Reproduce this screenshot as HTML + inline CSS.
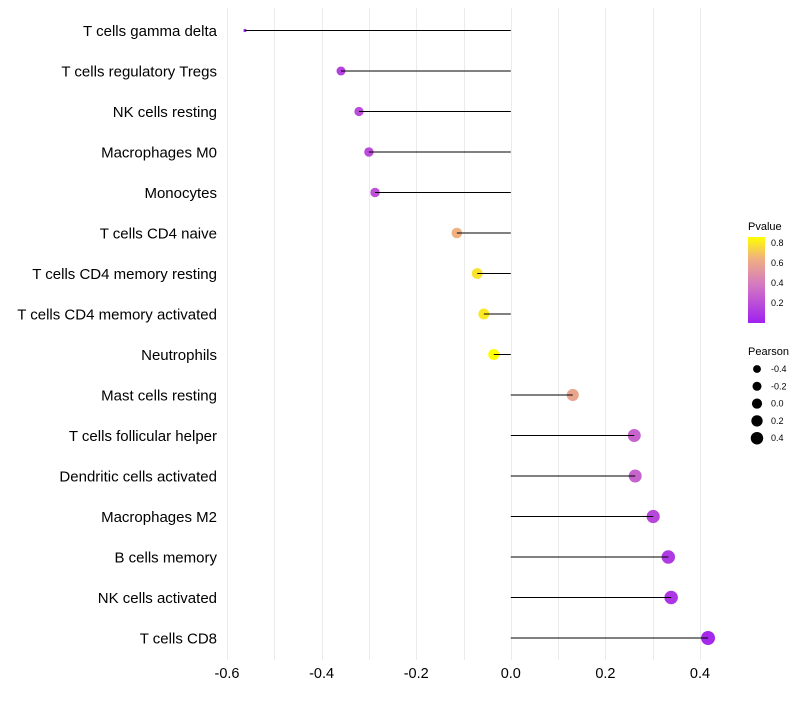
<!DOCTYPE html>
<html><head><meta charset="utf-8"><style>
body{margin:0;background:#fff;font-family:"Liberation Sans",sans-serif}
</style></head><body>
<svg id="chart" width="800" height="700">
<defs><linearGradient id="pg" x1="0" y1="1" x2="0" y2="0">
<stop offset="0" stop-color="#a020f0"/><stop offset="0.45" stop-color="#d47ac0"/><stop offset="0.75" stop-color="#f0b080"/><stop offset="1" stop-color="#ffff00"/></linearGradient></defs>
<g id="grid"></g><g id="marks"></g><g id="stems"></g><g id="labels"></g>
<g>
<text x="748" y="230" font-size="11" fill="#000">Pvalue</text>
<rect x="748" y="237" width="17" height="86" fill="url(#pg)"/>
<g font-size="9" fill="#000"><text x="771" y="246">0.8</text><text x="771" y="266">0.6</text><text x="771" y="286">0.4</text><text x="771" y="306">0.2</text></g>
</g>
<g id="sizelegend">
<text x="748" y="355" font-size="11" fill="#000">Pearson</text>
</g>
</svg>
<script>
const categories=["T cells gamma delta","T cells regulatory  Tregs ","NK cells resting","Macrophages M0","Monocytes","T cells CD4 naive","T cells CD4 memory resting","T cells CD4 memory activated","Neutrophils","Mast cells resting","T cells follicular helper","Dendritic cells activated","Macrophages M2","B cells memory","NK cells activated","T cells CD8"];
const pearson=[-0.562,-0.359,-0.321,-0.300,-0.287,-0.114,-0.071,-0.057,-0.036,0.131,0.261,0.263,0.301,0.333,0.339,0.417];
const pvalue=[0.05,0.15,0.2,0.2,0.22,0.65,0.78,0.8,0.86,0.6,0.3,0.3,0.18,0.12,0.1,0.05];
const xTicks=[-0.6,-0.4,-0.2,0.0,0.2,0.4];
const sizeBreaks=[-0.4,-0.2,0.0,0.2,0.4];
const NS="http://www.w3.org/2000/svg";
const x=v=>510.8+v*473;
const y=i=>30.5+i*40.5;
const r=v=>v<-0.45?1.6:4.5+(v+0.36)*3.2;
function mk(t,a,p){const e=document.createElementNS(NS,t);for(const k in a)e.setAttribute(k,a[k]);p.appendChild(e);return e;}
function lerp(a,b,t){return a.map((c,i)=>Math.round(c+(b[i]-c)*t));}
function col(p){const s=[[0.01,[160,32,240]],[0.4,[212,122,192]],[0.65,[240,176,128]],[0.86,[255,255,0]]];
 if(p<=s[0][0])return`rgb(${s[0][1]})`;for(let i=1;i<s.length;i++){if(p<=s[i][0]){const c=lerp(s[i-1][1],s[i][1],(p-s[i-1][0])/(s[i][0]-s[i-1][0]));return`rgb(${c})`;}}return"rgb(255,255,0)";}
const grid=document.getElementById('grid'),marks=document.getElementById('marks'),stems=document.getElementById('stems'),labels=document.getElementById('labels');
for(let v=-0.6;v<=0.45;v+=0.1){const l=mk('line',{x1:Math.round(x(v))+0.5,x2:Math.round(x(v))+0.5,y1:8,y2:660,stroke:'#ebebeb','stroke-width':1},grid);

}
xTicks.forEach(v=>{const t=mk('text',{x:x(v),y:678,'font-size':14.5,'text-anchor':'middle',fill:'#000'},labels);t.textContent=v.toFixed(1);

});
categories.forEach((c,i)=>{const t=mk('text',{x:217,y:y(i)+5.5,'font-size':15,'text-anchor':'end',fill:'#000'},labels);t.textContent=c;


const d=mk('circle',{cx:x(pearson[i]),cy:y(i),r:r(pearson[i]),fill:col(pvalue[i])},marks);


const ln=mk('line',{x1:x(0),x2:x(pearson[i]),y1:y(i),y2:y(i),stroke:'#000','stroke-width':1},stems);

});
const sl=document.getElementById('sizelegend');
sizeBreaks.forEach((v,i)=>{const cy=369+i*17.3;const c=mk('circle',{cx:757,cy:cy,r:r(v)*0.9,fill:'#000'},sl);


const t=mk('text',{x:771,y:cy+3,'font-size':9,fill:'#000'},sl);t.textContent=v.toFixed(1);

});
</script>
</body></html>
